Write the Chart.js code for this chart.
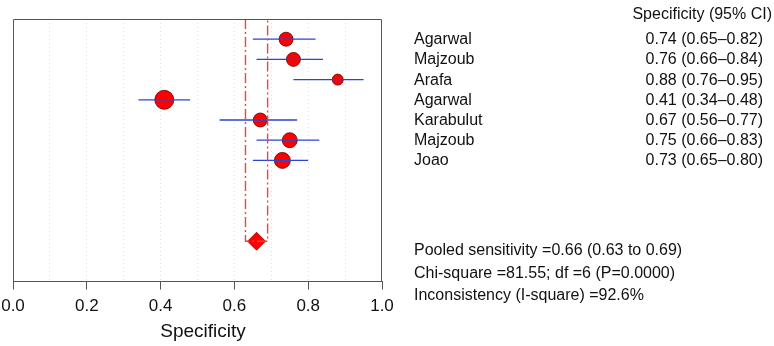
<!DOCTYPE html>
<html>
<head>
<meta charset="utf-8">
<script src="https://cdn.jsdelivr.net/npm/chart.js@4.4.1/dist/chart.umd.min.js"></script>
<style>
  body { margin: 0; background: #fff; }
  #wrap { position: relative; width: 774px; height: 346px; font-family: "Liberation Sans", Arial, Helvetica, sans-serif; color: #111; }
  #chart { position: absolute; left: 0; top: 0; }
  .t { position: absolute; font-size: 16px; line-height: 18px; white-space: nowrap; }
  .r { text-align: right; }
  #xtitle { position: absolute; font-size: 19px; line-height: 22px; width: 200px; text-align: center; }
</style>
</head>
<body>
<div id="wrap">
  <canvas id="chart" width="774" height="346"></canvas>
  <div id="side"></div>
  <div id="xtitle">Specificity</div>
</div>
<script>
// study data
const studies = ['Agarwal', 'Majzoub', 'Arafa', 'Agarwal', 'Karabulut', 'Majzoub', 'Joao'];
const spec = [0.74, 0.76, 0.88, 0.41, 0.67, 0.75, 0.73];
const lower = [0.65, 0.66, 0.76, 0.34, 0.56, 0.66, 0.65];
const upper = [0.82, 0.84, 0.95, 0.48, 0.77, 0.83, 0.80];
const radius = [7, 7, 5.5, 9.5, 7, 7.5, 8];  // marker size ~ study weight

const pooled = 0.66;
const pooledLo = 0.63;
const pooledHi = 0.69;
const pooledRow = 11;

const xTicks = [0, 0.2, 0.4, 0.6, 0.8, 1.0];
const statLines = [
    'Pooled sensitivity =0.66 (0.63 to 0.69)',
    'Chi-square =81.55; df =6 (P=0.0000)',
    'Inconsistency (I-square) =92.6%'
];

const fmt = v => v.toFixed(2);
const isMajor = v => xTicks.some(t => Math.abs(t - v) < 1e-6);

// CI segments in one dataset, broken with nulls
let ciData = [];
studies.forEach((s, i) => {
    ciData.push({x: lower[i], y: i + 1});
    ciData.push({x: upper[i], y: i + 1});
    ciData.push({x: null, y: null});
});

const boxPlugin = {
    id: 'box',
    afterDraw(chart) {
        const a = chart.chartArea;
        const ctx = chart.ctx;
        ctx.save();
        ctx.strokeStyle = '#555';
        ctx.lineWidth = 1;
        ctx.setLineDash([]);
        ctx.beginPath();
        ctx.moveTo(a.left + 0.5, a.bottom);
        ctx.lineTo(a.left + 0.5, a.top + 0.5);
        ctx.lineTo(a.right - 0.5, a.top + 0.5);
        ctx.lineTo(a.right - 0.5, a.bottom);
        ctx.stroke();
        ctx.restore();
    }
};

const ctx = document.getElementById('chart');
const myChart = new Chart(ctx, {
    type: 'scatter',
    data: {
        datasets: [
            {
                type: 'line',
                data: [
                    {x: pooledLo, y: 0},
                    {x: pooledLo, y: pooledRow},
                    {x: pooledHi, y: pooledRow},
                    {x: pooledHi, y: 0}
                ],
                borderColor: '#ff3b3b',
                borderWidth: 1.4,
                borderDash: [10, 3, 2, 3],
                pointRadius: 0,
                fill: false
            },
            {
                type: 'line',
                data: ciData,
                borderColor: '#2a44d8',
                borderWidth: 1.3,
                pointRadius: 0,
                spanGaps: false,
                fill: false
            },
            {
                data: spec.map((v, i) => ({x: v, y: i + 1})),
                pointRadius: radius,
                backgroundColor: '#ff0000',
                borderColor: '#5a0000',
                borderWidth: 0.8
            },
            {
                data: [{x: pooled, y: pooledRow}],
                pointStyle: 'rectRot',
                pointRadius: 9,
                backgroundColor: '#ff0000',
                borderColor: '#8a0000',
                borderWidth: 0.8
            }
        ]
    },
    options: {
        responsive: false,
        animation: false,
        layout: {
            padding: {left: 13, right: 392, top: 19, bottom: 22}
        },
        plugins: {
            legend: {display: false},
            tooltip: {enabled: false}
        },
        scales: {
            x: {
                type: 'linear',
                min: 0,
                max: 1,
                afterFit: s => { s.paddingLeft = 0; s.paddingRight = 0; },
                border: {display: true, color: '#555', width: 1, dash: [1, 3]},
                ticks: {
                    stepSize: 0.1,
                    autoSkip: false,
                    maxRotation: 0,
                    color: '#111',
                    font: {family: 'Liberation Sans, Arial', size: 17},
                    padding: 7,
                    callback: v => isMajor(v) ? v.toFixed(1) : ''
                },
                grid: {
                    drawTicks: true,
                    tickLength: 8,
                    color: c => (c.tick && (c.tick.value < 0.05 || c.tick.value > 0.95)) ? 'rgba(0,0,0,0)' : '#e2e2e2',
                    tickColor: c => isMajor(c.tick.value) ? '#555' : 'rgba(0,0,0,0)',
                    tickBorderDash: [],
                    lineWidth: 1
                }
            },
            y: {
                display: false,
                reverse: true,
                min: 0,
                max: 13
            }
        }
    },
    plugins: [boxPlugin]
});

// x-axis title, centred a little right as in the source figure
const xt = document.getElementById('xtitle');
xt.style.left = (203 - 100) + 'px';
xt.style.top = (myChart.chartArea.bottom + 38) + 'px';

// right-hand text panel
const side = document.getElementById('side');
function addText(txt, left, top, right) {
    const d = document.createElement('div');
    d.className = 't' + (right ? ' r' : '');
    d.textContent = txt;
    if (right) {
        d.style.right = (774 - left) + 'px';
    } else {
        d.style.left = left + 'px';
    }
    d.style.top = top + 'px';
    side.appendChild(d);
}
const yScale = myChart.scales.y;
addText('Specificity (95% CI)', 772, 5, true);
studies.forEach((s, i) => {
    const yc = yScale.getPixelForValue(i + 1);
    addText(s, 414, yc - 9, false);
    addText(fmt(spec[i]) + ' (' + fmt(lower[i]) + '\u2013' + fmt(upper[i]) + ')', 763, yc - 9, true);
});
statLines.forEach((s, i) => {
    addText(s, 414, 241 + i * 22.5, false);
});
</script>
</body>
</html>
